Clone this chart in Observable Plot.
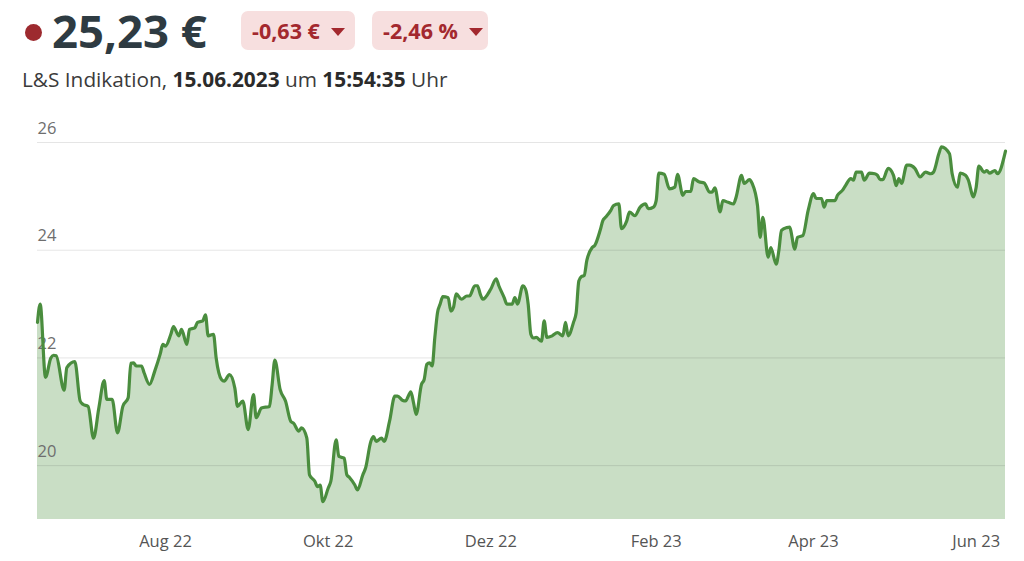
<!DOCTYPE html>
<html><head><meta charset="utf-8">
<script src="https://cdn.jsdelivr.net/npm/d3@7"></script>
<script src="https://cdn.jsdelivr.net/npm/@observablehq/plot@0.6"></script>
<style>
html,body{margin:0;padding:0;background:#fff}
body{width:1024px;height:561px;overflow:hidden;font-family:"Open Sans","Noto Sans",sans-serif}
#hdr{position:relative;height:100px}
.dot{position:absolute;left:25px;top:24px;width:17px;height:17px;border-radius:50%;background:#9d2a2f}
.price{position:absolute;left:52px;top:8px;font-size:45.5px;font-weight:700;color:#2e3b42;line-height:45px;white-space:nowrap}
.badge{position:absolute;top:11px;height:39px;border-radius:7px;background:#f7dfdf;color:#a3282e;font-weight:700;font-size:21.5px;line-height:39px;box-sizing:border-box;padding-left:11px;white-space:nowrap}
.b1{left:241px;width:114px}
.b2{left:372px;width:116px}
.tri{display:inline-block;width:0;height:0;border-left:7px solid transparent;border-right:7px solid transparent;border-top:8px solid #a3282e;vertical-align:middle;margin-left:11px;margin-top:-3px}
.sub{position:absolute;left:22px;top:69px;font-size:20.8px;line-height:20px;color:#3b3b3b;white-space:nowrap}
.sub b{color:#2b2b2b;font-weight:700}
</style></head><body>
<div id="hdr">
  <span class="dot"></span>
  <span class="price">25,23 €</span>
  <span class="badge b1">-0,63 €<span class="tri"></span></span>
  <span class="badge b2">-2,46 %<span class="tri"></span></span>
  <div class="sub">L&amp;S Indikation, <b>15.06.2023</b> um <b>15:54:35</b> Uhr</div>
</div>
<div id="chart"></div>
<script>
const dates = [
"2022-06-14","2022-06-15","2022-06-17","2022-06-19","2022-06-20","2022-06-21","2022-06-24","2022-06-25","2022-06-28","2022-06-30",
"2022-07-01","2022-07-03","2022-07-05","2022-07-07","2022-07-09","2022-07-10","2022-07-12","2022-07-14","2022-07-16","2022-07-18",
"2022-07-19","2022-07-20","2022-07-21","2022-07-23","2022-07-24","2022-07-26","2022-07-28","2022-07-30","2022-07-31",
"2022-08-01","2022-08-03","2022-08-04","2022-08-06","2022-08-07","2022-08-09","2022-08-10","2022-08-12","2022-08-13","2022-08-15",
"2022-08-16","2022-08-17","2022-08-19","2022-08-20","2022-08-22","2022-08-23","2022-08-25","2022-08-27","2022-08-28","2022-08-30",
"2022-09-01","2022-09-03","2022-09-04","2022-09-06","2022-09-09","2022-09-10","2022-09-11","2022-09-13","2022-09-15","2022-09-17",
"2022-09-18","2022-09-20","2022-09-21","2022-09-23","2022-09-24","2022-09-26","2022-09-27","2022-09-28","2022-09-29",
"2022-10-01","2022-10-02","2022-10-04","2022-10-05","2022-10-07","2022-10-08","2022-10-09","2022-10-11","2022-10-12","2022-10-14",
"2022-10-15","2022-10-17","2022-10-18","2022-10-19","2022-10-21","2022-10-22","2022-10-24","2022-10-26","2022-10-27","2022-10-29","2022-10-30",
"2022-11-01","2022-11-02","2022-11-03","2022-11-05","2022-11-06","2022-11-07","2022-11-08","2022-11-09","2022-11-10","2022-11-11",
"2022-11-12","2022-11-13","2022-11-15","2022-11-16","2022-11-17","2022-11-18","2022-11-20","2022-11-22","2022-11-23","2022-11-25",
"2022-11-26","2022-11-27","2022-11-28",
"2022-12-01","2022-12-03","2022-12-04","2022-12-06","2022-12-07","2022-12-09","2022-12-10","2022-12-11","2022-12-13","2022-12-14",
"2022-12-15","2022-12-16","2022-12-17","2022-12-18","2022-12-20","2022-12-21","2022-12-22","2022-12-24","2022-12-26","2022-12-28",
"2022-12-29","2022-12-30",
"2023-01-01","2023-01-02","2023-01-03","2023-01-04","2023-01-05","2023-01-06","2023-01-08","2023-01-09","2023-01-11","2023-01-12",
"2023-01-13","2023-01-15","2023-01-16","2023-01-18","2023-01-19","2023-01-21","2023-01-22","2023-01-24","2023-01-26","2023-01-28",
"2023-01-29","2023-01-31",
"2023-02-01","2023-02-02","2023-02-04","2023-02-06","2023-02-08","2023-02-09","2023-02-11","2023-02-12","2023-02-14","2023-02-15",
"2023-02-17","2023-02-19","2023-02-21","2023-02-22","2023-02-23","2023-02-25","2023-02-26","2023-02-28",
"2023-03-02","2023-03-03","2023-03-05","2023-03-06","2023-03-08","2023-03-09","2023-03-11","2023-03-12","2023-03-13","2023-03-15",
"2023-03-16","2023-03-18","2023-03-19","2023-03-20","2023-03-22","2023-03-23","2023-03-25","2023-03-26","2023-03-28","2023-03-30",
"2023-04-01","2023-04-02","2023-04-04","2023-04-05","2023-04-06","2023-04-09","2023-04-10","2023-04-12","2023-04-13","2023-04-15",
"2023-04-16","2023-04-17","2023-04-19","2023-04-20","2023-04-22","2023-04-24","2023-04-25","2023-04-26","2023-04-27","2023-04-29",
"2023-05-01","2023-05-02","2023-05-03","2023-05-04","2023-05-06","2023-05-07","2023-05-09","2023-05-11","2023-05-13","2023-05-15",
"2023-05-16","2023-05-18","2023-05-19","2023-05-22","2023-05-23","2023-05-25","2023-05-26","2023-05-28","2023-05-29","2023-05-31",
"2023-06-01","2023-06-02","2023-06-04","2023-06-05","2023-06-06","2023-06-08","2023-06-09","2023-06-12"
];
const prices = [
22.66,23.00,21.64,22.00,22.05,22.04,21.40,21.82,21.93,21.20,
21.14,21.10,20.51,21.07,21.58,21.23,21.23,20.61,21.10,21.26,
21.90,21.91,21.85,21.85,21.72,21.51,21.76,22.07,22.25,
22.22,22.44,22.58,22.41,22.53,22.25,22.53,22.56,22.66,22.69,
22.80,22.41,22.44,22.00,21.60,21.57,21.69,21.44,21.10,21.20,
20.67,21.32,20.89,21.07,21.10,21.51,21.96,21.41,21.20,20.82,
20.79,20.64,20.70,20.51,19.83,19.71,19.61,19.64,19.33,
19.58,19.71,20.48,20.17,20.14,19.83,19.78,19.64,19.55,19.83,
19.95,20.45,20.54,20.45,20.51,20.45,20.82,21.29,21.29,21.21,21.20,
21.37,21.17,20.95,21.51,21.60,21.88,21.91,21.85,22.38,22.84,
23.00,23.14,23.12,22.87,22.94,23.19,23.09,23.15,23.15,23.34,
23.34,23.19,23.09,
23.28,23.47,23.34,23.12,23.00,23.00,23.12,23.00,23.34,23.28,
23.00,22.44,22.37,22.38,22.31,22.69,22.38,22.41,22.47,22.41,
22.66,22.41,
22.66,22.84,23.43,23.51,23.53,23.81,24.05,24.09,24.37,24.55,
24.61,24.74,24.83,24.86,24.40,24.55,24.71,24.64,24.80,24.86,
24.77,24.80,
24.92,25.43,25.41,25.14,25.17,25.41,25.02,25.09,25.09,25.33,
25.27,25.25,25.08,25.08,25.16,24.71,24.92,24.89,
24.86,24.99,25.39,25.24,25.31,25.24,24.83,24.24,24.61,23.87,
24.05,23.74,23.99,24.37,24.42,24.43,24.02,24.24,24.27,24.74,
25.05,24.96,24.96,24.80,24.92,24.92,25.02,25.12,25.20,25.33,
25.30,25.45,25.45,25.30,25.43,25.42,25.39,25.31,25.31,25.52,
25.39,25.20,25.33,25.24,25.58,25.58,25.52,25.36,25.45,25.42,
25.45,25.79,25.92,25.79,25.42,25.17,25.43,25.39,25.31,24.99,
25.17,25.56,25.45,25.48,25.43,25.48,25.42,25.84
];
const xDomain = ["2022-06-14", "2023-06-12"];
const yDomain = [19, 26];
const yTicks = [20, 22, 24, 26];
const xTickDates = ["2022-08-01", "2022-10-01", "2022-12-01", "2023-02-01", "2023-04-01", "2023-06-01"];
const xTickLabels = ["Aug 22", "Okt 22", "Dez 22", "Feb 23", "Apr 23", "Jun 23"];

const parse = d3.utcParse("%Y-%m-%d");
const data = dates.map((d, i) => ({date: parse(d), price: prices[i]}));
const tickDates = xTickDates.map(parse);
const labelMap = new Map(tickDates.map((d, i) => [+d, xTickLabels[i]]));

const chart = Plot.plot({
  width: 1024,
  height: 461,
  marginLeft: 37,
  marginRight: 19,
  marginTop: 42,
  marginBottom: 42,
  style: {fontFamily: "Open Sans, Noto Sans, sans-serif", background: "#fff"},
  x: {type: "utc", domain: xDomain.map(parse), label: null},
  y: {domain: yDomain, label: null},
  marks: [
    Plot.areaY(data, {x: "date", y1: () => yDomain[0], y2: "price", fill: "#c9dec5", curve: "monotone-x"}),
    Plot.ruleY(yTicks, {stroke: "#000", strokeOpacity: 0.1}),
    Plot.axisY(yTicks, {anchor: "left", label: null, tickSize: 0, tickPadding: 0, textAnchor: "start", dy: -14, tickFormat: d => String(d), fill: "#6e6e6e", fontSize: 16.5}),
    Plot.lineY(data, {x: "date", y: "price", stroke: "#4a8d3e", strokeWidth: 3.2, curve: "monotone-x"}),
    Plot.axisX(tickDates, {label: null, tickSize: 0, tickPadding: 16, tickFormat: d => labelMap.get(+d), fill: "#555", fontSize: 16.5})
  ]
});
document.getElementById("chart").appendChild(chart);
</script>
</body></html>
